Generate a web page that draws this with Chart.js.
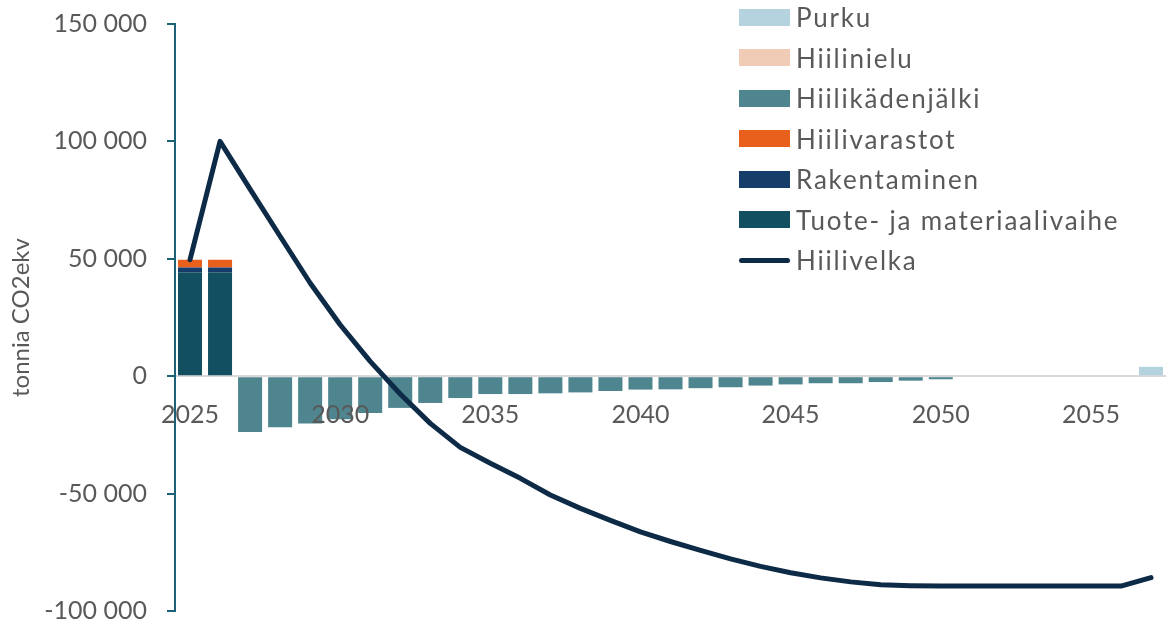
<!DOCTYPE html>
<html lang="fi">
<head>
<meta charset="utf-8">
<title>Hiilivelka</title>
<script src="https://cdn.jsdelivr.net/npm/chart.js@4/dist/chart.umd.min.js"></script>
<style>
    html, body { margin: 0; padding: 0; background: #fff; }
    #wrap { position: relative; width: 1166px; height: 627px; overflow: hidden; }
    #legend { position: absolute; left: 739px; top: -3px; font-family: Lato, sans-serif; font-size: 26px; letter-spacing: 1.8px; color: #595959; }
    #legend .row { display: flex; align-items: center; height: 40.5px; white-space: nowrap; }
    #legend .sw { width: 51px; height: 17px; margin-right: 6px; flex: none; }
    #legend .sw.line { height: 5px; border-radius: 3px; }
</style>
</head>
<body>
<div id="wrap">
    <canvas id="chart"></canvas>
    <div id="legend"></div>
</div>
<script>
// Years on the x axis
const years = ['2025','2026','2027','2028','2029','2030','2031','2032','2033','2034','2035','2036','2037','2038','2039','2040','2041','2042','2043','2044','2045','2046','2047','2048','2049','2050','2051','2052','2053','2054','2055','2056','2057'];

// Stacked bar series (tonnia CO2ekv)
const tuote = [44300, 44300, 0, 0, 0, 0, 0, 0, 0, 0, 0, 0, 0, 0, 0, 0, 0, 0, 0, 0, 0, 0, 0, 0, 0, 0, 0, 0, 0, 0, 0, 0, 0];
const rakentaminen = [2000, 2000, 0, 0, 0, 0, 0, 0, 0, 0, 0, 0, 0, 0, 0, 0, 0, 0, 0, 0, 0, 0, 0, 0, 0, 0, 0, 0, 0, 0, 0, 0, 0];
const hiilivarastot = [3300, 3300, 0, 0, 0, 0, 0, 0, 0, 0, 0, 0, 0, 0, 0, 0, 0, 0, 0, 0, 0, 0, 0, 0, 0, 0, 0, 0, 0, 0, 0, 0, 0];
const hiilikadenjalki = [0, 0, -23800, -21700, -20100, -18300, -15700, -13500, -11400, -9300, -7600, -7600, -7300, -6900, -6300, -5700, -5600, -5100, -4700, -4000, -3500, -3000, -3000, -2500, -1900, -1300, 0, 0, 0, 0, 0, 0, 0];
const hiilinielu = [0, 0, 0, 0, 0, 0, 0, 0, 0, 0, 0, 0, 0, 0, 0, 0, 0, 0, 0, 0, 0, 0, 0, 0, 0, 0, 0, 0, 0, 0, 0, 0, 0];
const purku = [0, 0, 0, 0, 0, 0, 0, 0, 0, 0, 0, 0, 0, 0, 0, 0, 0, 0, 0, 0, 0, 0, 0, 0, 0, 0, 0, 0, 0, 0, 0, 0, 4000];

// Line series
const hiilivelka = [49600, 100000, 79700, 59600, 39700, 21900, 6300, -7600, -20100, -30300, -37100, -43500, -50600, -56300, -61400, -66300, -70400, -74200, -77800, -81000, -83700, -85900, -87600, -88800, -89200, -89400, -89400, -89400, -89400, -89400, -89400, -89400, -85800];

// y axis ticks
const yTicks = [-100000, -50000, 0, 50000, 100000, 150000];

const textColor = '#595959';
const axisColor = '#1d6176';

Chart.defaults.font.family = 'Lato, sans-serif';
Chart.defaults.color = textColor;

function fmt(v) {
    return String(v).replace(/\B(?=(\d{3})+(?!\d))/g, ' ');
}

const barOpts = { stack: 'bars', order: 1, barPercentage: 0.8, categoryPercentage: 1.0 };

const chart = new Chart(document.getElementById('chart'), {
    type: 'bar',
    data: {
        labels: years,
        datasets: [
            { label: 'Tuote- ja materiaalivaihe', data: tuote, backgroundColor: '#124f61', ...barOpts },
            { label: 'Rakentaminen', data: rakentaminen, backgroundColor: '#163c6a', ...barOpts },
            { label: 'Hiilivarastot', data: hiilivarastot, backgroundColor: '#e8601c', ...barOpts },
            { label: 'Hiilikädenjälki', data: hiilikadenjalki, backgroundColor: '#4e858e', ...barOpts },
            { label: 'Hiilinielu', data: hiilinielu, backgroundColor: '#f0cbb6', ...barOpts },
            { label: 'Purku', data: purku, backgroundColor: '#b4d3de', ...barOpts },
            {
                type: 'line',
                label: 'Hiilivelka',
                data: hiilivelka,
                stack: 'velka',
                order: 0,
                borderColor: '#0d2a47',
                borderWidth: 5,
                borderCapStyle: 'round',
                borderJoinStyle: 'round',
                pointRadius: 0,
                tension: 0,
                fill: false
            }
        ]
    },
    options: {
        responsive: true,
        maintainAspectRatio: false,
        animation: false,
        layout: { padding: 0 },
        plugins: {
            legend: { display: false },
            tooltip: { enabled: false }
        },
        scales: {
            x: {
                stacked: true,
                position: { y: 0 },
                // the axis sits on the zero line, so it should not take any layout space
                afterFit: (s) => {
                    s.height = 0;
                    s.paddingLeft = 0;
                    s.paddingRight = 0;
                    s.paddingTop = 0;
                    s.paddingBottom = 0;
                },
                grid: { display: false, drawTicks: false },
                border: { color: '#d9d9d9', width: 2 },
                ticks: {
                    autoSkip: false,
                    maxRotation: 0,
                    padding: 24,
                    z: 1, // year labels are drawn over the bars
                    font: { size: 25 },
                    color: textColor,
                    callback: (v, i) => (i % 5 === 0 ? years[i] : '')
                }
            },
            y: {
                stacked: true,
                min: yTicks[0],
                max: yTicks[yTicks.length - 1],
                // fixed plot area: left edge at 175, top at 24, bottom at 611
                afterFit: (s) => {
                    s.width = 175;
                    s.paddingTop = 24;
                    s.paddingBottom = 16;
                },
                afterBuildTicks: (s) => { s.ticks = yTicks.map(v => ({ value: v })); },
                grid: { drawOnChartArea: false, color: axisColor, lineWidth: 2, tickLength: 8 },
                border: { color: axisColor, width: 2 },
                ticks: {
                    padding: 20,
                    font: { size: 25 },
                    color: textColor,
                    callback: (v) => fmt(v)
                },
                title: {
                    display: true,
                    text: 'tonnia CO2ekv',
                    font: { size: 24 },
                    color: textColor,
                    padding: { top: 7, bottom: 0 }
                }
            }
        }
    }
});

// Legend in the top right corner, in Excel's reversed order with the line last
const legendEl = document.getElementById('legend');
const ds = chart.data.datasets;
const bars = ds.filter(d => d.type !== 'line').reverse();
const lines = ds.filter(d => d.type === 'line');
bars.concat(lines).forEach(d => {
    const row = document.createElement('div');
    row.className = 'row';
    const sw = document.createElement('span');
    sw.className = d.type === 'line' ? 'sw line' : 'sw';
    sw.style.background = d.type === 'line' ? d.borderColor : d.backgroundColor;
    const txt = document.createElement('span');
    txt.textContent = d.label;
    row.appendChild(sw);
    row.appendChild(txt);
    legendEl.appendChild(row);
});
</script>
</body>
</html>
